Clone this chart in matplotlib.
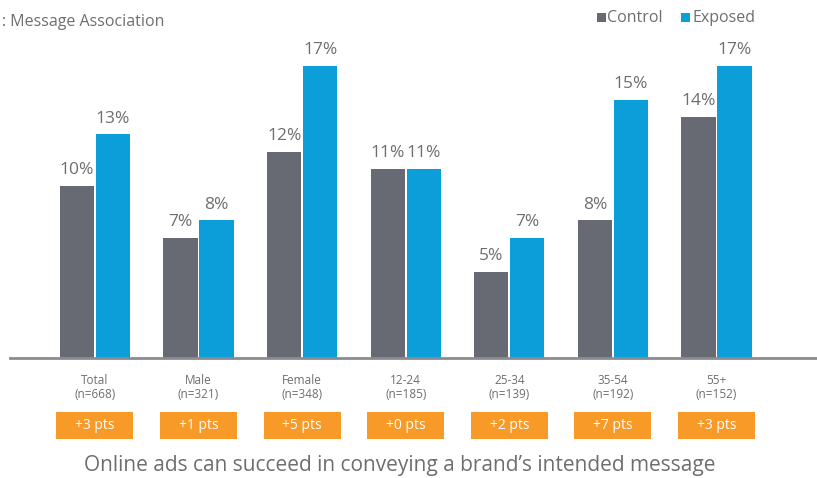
import matplotlib.pyplot as plt
from matplotlib.patches import Rectangle
import matplotlib.transforms as mtransforms

plt.rcParams['font.family'] = ['Open Sans', 'DejaVu Sans']

categories = ['Total', 'Male', 'Female', '12-24', '25-34', '35-54', '55+']
sample_sizes = ['(n=668)', '(n=321)', '(n=348)', '(n=185)', '(n=139)', '(n=192)', '(n=152)']
control = [10, 7, 12, 11, 5, 8, 14]
exposed = [13, 8, 17, 11, 7, 15, 17]
lift_labels = ['+3 pts', '+1 pts', '+5 pts', '+0 pts', '+2 pts', '+7 pts', '+3 pts']

GRAY = '#676a72'
BLUE = '#0b9ed9'
ORANGE = '#f79a27'
TEXT = '#6d6e71'

W, H = 817, 478
fig = plt.figure(figsize=(W / 100, H / 100), dpi=100)
ax = fig.add_axes([10 / W, 1 - 358 / H, (W - 10) / W, 344 / H])

x = list(range(len(categories)))
off = 0.174
bw = 0.33
ax.bar([i - off for i in x], control, width=bw, color=GRAY, zorder=2)
ax.bar([i + off for i in x], exposed, width=bw, color=BLUE, zorder=2)

for i in x:
    ax.text(i - off, control[i] + 0.45, f'{control[i]}%', ha='center', va='bottom',
            fontsize=12.5, color=TEXT)
    ax.text(i + off, exposed[i] + 0.45, f'{exposed[i]}%', ha='center', va='bottom',
            fontsize=12.5, color=TEXT)

ax.set_xlim(-0.82, 6.97)
ax.set_ylim(0, 20)
for s in ['top', 'right', 'left']:
    ax.spines[s].set_visible(False)
ax.spines['bottom'].set_color('#8a8c92')
ax.spines['bottom'].set_linewidth(2)
ax.set_yticks([])
ax.set_xticks([])

# labels and lift boxes under the axis
trans = mtransforms.blended_transform_factory(ax.transData, ax.transAxes)
for i in x:
    ax.text(i, -22 / 344, categories[i], transform=trans, ha='center', va='center',
            fontsize=8.5, color=TEXT)
    ax.text(i, -37 / 344, sample_sizes[i], transform=trans, ha='center', va='center',
            fontsize=8.5, color=TEXT)
    ax.add_patch(Rectangle((i - 0.372, -81 / 344), 0.744, 27 / 344, transform=trans,
                           facecolor=ORANGE, edgecolor='none', clip_on=False))
    ax.text(i, -67.5 / 344, lift_labels[i], transform=trans, ha='center', va='center',
            fontsize=10, color='white')

fig.text(2 / W, 1 - 22 / H, ': Message Association', ha='left', va='center',
         fontsize=11.5, color=TEXT)

# legend
fig.patches.append(Rectangle((597 / W, 1 - 22 / H), 9 / W, 9 / H, transform=fig.transFigure,
                             facecolor=GRAY, edgecolor='none'))
fig.text(607 / W, 1 - 18 / H, 'Control', ha='left', va='center', fontsize=11.5, color=TEXT)
fig.patches.append(Rectangle((681 / W, 1 - 22 / H), 9 / W, 9 / H, transform=fig.transFigure,
                             facecolor=BLUE, edgecolor='none'))
fig.text(692 / W, 1 - 18 / H, 'Exposed', ha='left', va='center', fontsize=11.5, color=TEXT)

fig.text(400 / W, 1 - 466 / H, 'Online ads can succeed in conveying a brand\u2019s intended message',
         ha='center', va='center', fontsize=15, color=TEXT)

fig.savefig('out.png', dpi=100)
